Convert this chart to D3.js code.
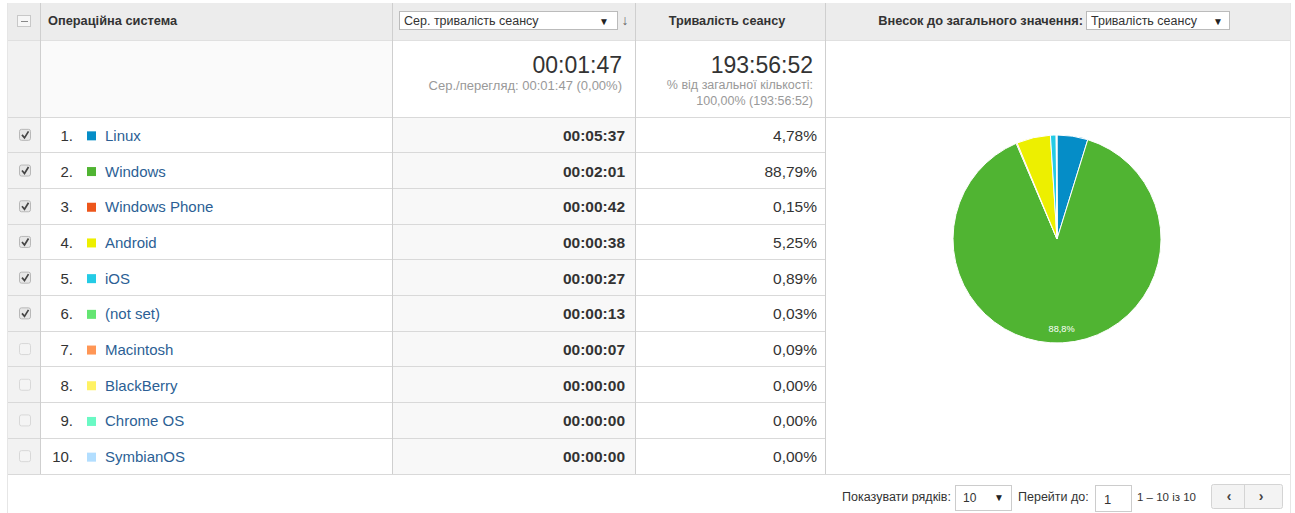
<!DOCTYPE html>
<html><head><meta charset="utf-8">
<script src="https://cdn.jsdelivr.net/npm/d3@7"></script>
<style>
html,body{margin:0;padding:0;background:#fff;}
svg{display:block;font-family:"Liberation Sans",Arial,sans-serif;}
</style></head><body>
<svg id="c" width="1295" height="513"></svg>
<script>
const categories = ["Linux","Windows","Windows Phone","Android","iOS","(not set)","Macintosh","BlackBerry","Chrome OS","SymbianOS"];
const avgDuration = ["00:05:37","00:02:01","00:00:42","00:00:38","00:00:27","00:00:13","00:00:07","00:00:00","00:00:00","00:00:00"];
const sharePct = [4.78,88.79,0.15,5.25,0.89,0.03,0.09,0.00,0.00,0.00];
const checked = [true,true,true,true,true,true,false,false,false,false];
const colors = ["#058dc7","#50b432","#ed561b","#edef00","#24cbe5","#64e572","#ff9655","#fff263","#6af9c4","#b2deff"];
const headers = {dim:"Операційна система", metricSel:"Сер. тривалість сеансу", metric2:"Тривалість сеансу", contrib:"Внесок до загального значення:", contribSel:"Тривалість сеансу"};
const totals = {avg:"00:01:47", avgSub:"Сер./перегляд: 00:01:47 (0,00%)", sum:"193:56:52", sumSub1:"% від загальної кількості:", sumSub2:"100,00% (193:56:52)"};
const footer = {rowsLbl:"Показувати рядків:", rowsVal:"10", gotoLbl:"Перейти до:", gotoVal:"1", range:"1 – 10 із 10"};

const svg = d3.select("#c");
const X0=7, XC=40, XD=392, XA=635, XS=825, XR=1290;
const YH0=3, YH1=40, YT1=117, RH=35.7;
const y = d3.scaleBand().domain(d3.range(categories.length)).range([YT1, YT1+RH*categories.length]);

// backgrounds
svg.append("rect").attr("x",X0).attr("y",YH0).attr("width",XR-X0).attr("height",YH1-YH0).attr("fill","#ececec");
svg.append("rect").attr("x",X0).attr("y",YH1).attr("width",XC-X0).attr("height",y.range()[1]-YH1).attr("fill","#f2f2f2");
svg.append("rect").attr("x",XC).attr("y",YH1).attr("width",XD-XC).attr("height",YT1-YH1).attr("fill","#fafafa");
svg.append("rect").attr("x",XD).attr("y",YT1).attr("width",XA-XD).attr("height",y.range()[1]-YT1).attr("fill","#f8f8f8");

const line=(x1,y1,x2,y2,c)=>svg.append("line").attr("x1",x1).attr("y1",y1).attr("x2",x2).attr("y2",y2).attr("stroke",c||"#d9d9d9").attr("stroke-width",1).attr("shape-rendering","crispEdges");
line(X0,YH1,XR,YH1,"#e0e0e0");
line(X0,YT1,XR,YT1);
categories.forEach((c,i)=>{ line(X0,y(i)+y.bandwidth(),XS,y(i)+y.bandwidth()); });
const yb=y.range()[1];
line(X0,yb,XR,yb);
line(XC,YH0,XC,yb,"#cfcfcf"); line(XD,YH0,XD,yb,"#cfcfcf"); line(XA,YH0,XA,yb,"#cfcfcf"); line(XS,YH0,XS,yb,"#cfcfcf");
line(X0,YH0,X0,513,"#e6e6e6"); line(XR,YH0,XR,513,"#e6e6e6");

// header
svg.append("rect").attr("x",17.5).attr("y",15.5).attr("width",13).attr("height",11).attr("fill","#f6f6f6").attr("stroke","#c8c8c8");
line(21,21,28,21,"#888");
svg.append("text").attr("x",48).attr("y",25).attr("font-size",12.8).attr("font-weight","bold").attr("fill","#333").text(headers.dim);
svg.append("rect").attr("x",399.5).attr("y",11.5).attr("width",218).attr("height",18).attr("fill","#fff").attr("stroke","#bbb");
svg.append("text").attr("x",404).attr("y",25).attr("font-size",12.5).attr("fill","#333").text(headers.metricSel);
svg.append("text").attr("x",604).attr("y",25).attr("font-size",10).attr("fill","#222").attr("text-anchor","middle").text("▼");
svg.append("text").attr("x",625).attr("y",25).attr("font-size",14).attr("fill","#666").attr("text-anchor","middle").text("↓");
svg.append("text").attr("x",727).attr("y",25).attr("font-size",12.7).attr("font-weight","bold").attr("fill","#333").attr("text-anchor","middle").text(headers.metric2);
svg.append("text").attr("x",1083).attr("y",25).attr("font-size",12.8).attr("font-weight","bold").attr("fill","#333").attr("text-anchor","end").text(headers.contrib);
svg.append("rect").attr("x",1086.5).attr("y",11.5).attr("width",143).attr("height",18).attr("fill","#fff").attr("stroke","#bbb");
svg.append("text").attr("x",1091).attr("y",25).attr("font-size",12.5).attr("fill","#333").text(headers.contribSel);
svg.append("text").attr("x",1218).attr("y",25).attr("font-size",10).attr("fill","#222").attr("text-anchor","middle").text("▼");

// totals
svg.append("text").attr("x",622).attr("y",73).attr("font-size",23).attr("fill","#333").attr("text-anchor","end").text(totals.avg);
svg.append("text").attr("x",622).attr("y",90).attr("font-size",13).attr("fill","#999").attr("text-anchor","end").text(totals.avgSub);
svg.append("text").attr("x",813).attr("y",73).attr("font-size",23).attr("fill","#333").attr("text-anchor","end").text(totals.sum);
svg.append("text").attr("x",813).attr("y",89).attr("font-size",12.5).attr("fill","#999").attr("text-anchor","end").text(totals.sumSub1);
svg.append("text").attr("x",813).attr("y",105).attr("font-size",12.5).attr("fill","#999").attr("text-anchor","end").text(totals.sumSub2);

// rows
const rows = svg.selectAll("g.row").data(categories).join("g").attr("class","row")
  .attr("transform",(d,i)=>`translate(0,${y(i)+y.bandwidth()/2})`);
rows.append("rect").attr("x",19.5).attr("y",-5.5).attr("width",11).attr("height",11).attr("rx",2)
  .attr("fill",(d,i)=>checked[i]?"#e6e6e6":"#f4f4f4").attr("stroke",(d,i)=>checked[i]?"#b8b8b8":"#d8d8d8");
rows.filter((d,i)=>checked[i]).append("path").attr("d","M22,0 L24.5,3 L28.5,-3.5").attr("fill","none").attr("stroke","#444").attr("stroke-width",1.7);
rows.append("text").attr("x",73).attr("y",6).attr("font-size",15).attr("fill","#333").attr("text-anchor","end").text((d,i)=>(i+1)+".");
rows.append("rect").attr("x",87).attr("y",-3.5).attr("width",9).attr("height",9).attr("fill",(d,i)=>colors[i]);
rows.append("text").attr("x",105).attr("y",6).attr("font-size",15).attr("fill","#2c5f95").text(d=>d);
rows.append("text").attr("x",625).attr("y",6).attr("font-size",15.5).attr("font-weight","bold").attr("fill","#333").attr("text-anchor","end").text((d,i)=>avgDuration[i]);
rows.append("text").attr("x",817).attr("y",6).attr("font-size",15.5).attr("fill","#333").attr("text-anchor","end")
  .text((d,i)=>d3.format(".2f")(sharePct[i]).replace(".",",")+"%");

// pie
const pieData = d3.pie().sort(null).value(d=>d.v)(categories.map((c,i)=>({c,v:sharePct[i],col:colors[i]})));
const R=104, cx=1057, cy=239;
const arc=d3.arc().innerRadius(0).outerRadius(R);
const pg=svg.append("g").attr("transform",`translate(${cx},${cy})`);
pg.selectAll("path").data(pieData.filter(d=>d.data.v>0)).join("path").attr("d",arc).attr("fill",d=>d.data.col).attr("stroke","#fff").attr("stroke-width",1);
const big=pieData[1];
const lblR = R*0.86;
const ang=(big.startAngle+big.endAngle)/2;
pg.append("text").attr("x",Math.sin(ang)*lblR).attr("y",-Math.cos(ang)*lblR+4).attr("font-size",9.2).attr("fill","#fff").attr("text-anchor","middle")
  .text(d3.format(".1f")(big.data.v).replace(".",",")+"%");

// footer
const fy=501;
svg.append("text").attr("x",951).attr("y",fy).attr("font-size",12.5).attr("fill","#333").attr("text-anchor","end").text(footer.rowsLbl);
svg.append("rect").attr("x",955.5).attr("y",485.5).attr("width",56).attr("height",25).attr("fill","#fff").attr("stroke","#ccc");
svg.append("text").attr("x",963).attr("y",fy+1).attr("font-size",12).attr("fill","#333").text(footer.rowsVal);
svg.append("text").attr("x",999).attr("y",fy).attr("font-size",10).attr("fill","#222").attr("text-anchor","middle").text("▼");
svg.append("text").attr("x",1018).attr("y",fy).attr("font-size",12.5).attr("fill","#333").text(footer.gotoLbl);
svg.append("rect").attr("x",1095.5).attr("y",485.5).attr("width",36).attr("height",26).attr("fill","#fff").attr("stroke","#ccc");
svg.append("text").attr("x",1104).attr("y",fy+3).attr("font-size",13).attr("fill","#333").text(footer.gotoVal);
svg.append("text").attr("x",1137).attr("y",fy).attr("font-size",11.5).attr("fill","#333").text(footer.range);
svg.append("rect").attr("x",1211.5).attr("y",484.5).attr("width",71).attr("height",24).attr("rx",2).attr("fill","#f3f3f3").attr("stroke","#d4d4d4");
line(1244,485,1244,508,"#d4d4d4");
svg.append("text").attr("x",1229).attr("y",fy).attr("font-size",14).attr("font-weight","bold").attr("fill","#444").attr("text-anchor","middle").text("‹");
svg.append("text").attr("x",1261).attr("y",fy).attr("font-size",14).attr("font-weight","bold").attr("fill","#444").attr("text-anchor","middle").text("›");
</script></body></html>
